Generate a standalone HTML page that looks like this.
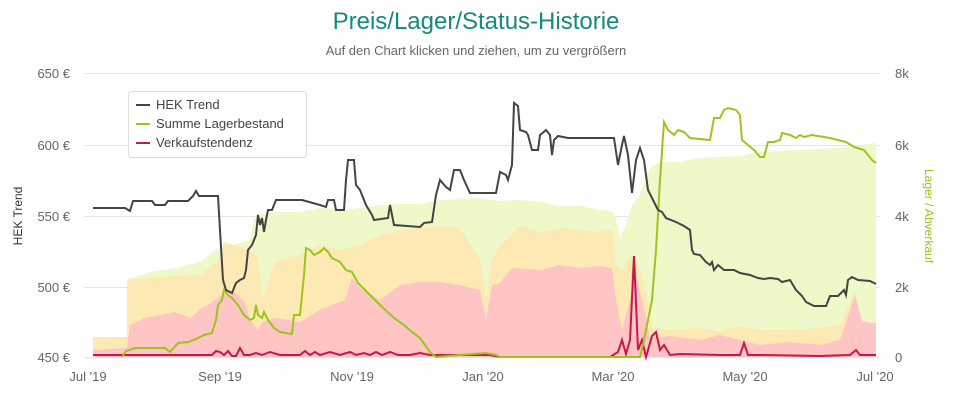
<!DOCTYPE html>
<html><head><meta charset="utf-8"><style>
body{margin:0;background:#fff;width:953px;height:401px;overflow:hidden;font-family:"Liberation Sans",sans-serif}
svg text{font-family:"Liberation Sans",sans-serif}
</style></head><body>
<svg width="953" height="401" viewBox="0 0 953 401" xmlns="http://www.w3.org/2000/svg">
<text x="476" y="29" text-anchor="middle" font-size="24" fill="#15897a">Preis/Lager/Status-Historie</text>
<text x="476" y="55" text-anchor="middle" font-size="13" fill="#666">Auf den Chart klicken und ziehen, um zu vergrößern</text>
<g stroke="#e6e6e6" stroke-width="1">
<line x1="84" x2="880" y1="73.5" y2="73.5"/><line x1="84" x2="880" y1="145.5" y2="145.5"/>
<line x1="84" x2="880" y1="216.5" y2="216.5"/><line x1="84" x2="880" y1="287.5" y2="287.5"/>
<line x1="84" x2="880" y1="357.5" y2="357.5"/>
</g>
<!-- areas -->
<polygon fill="#eef8c8" points="93,357 93,337 127,337 127,280 150,272 175,268 200,262 215,250 230,246 250,240 255,215 275,212 300,212 320,208 345,210 360,208 380,205 400,204 420,204 440,200 460,199 480,198 500,201 520,200 540,202 560,206 580,206 600,210 614,212 620,238 626,225 632,205 640,195 650,168 660,162 680,162 700,158 740,156 760,152 800,150 840,148 876,143 876,357"/>
<polygon fill="#fde9b4" points="93,357 93,337 127,337 127,280 150,278 175,276 200,275 218,262 224,242 250,250 258,258 262,300 275,262 300,255 320,245 340,250 360,245 380,235 400,230 420,228 440,226 460,228 480,260 486,300 492,260 500,245 520,225 540,232 560,228 580,230 600,232 612,230 616,265 622,270 632,255 640,270 648,300 652,328 670,330 700,328 720,332 740,326 760,330 790,330 820,328 840,325 855,292 862,320 876,325 876,357"/>
<polygon fill="#ffc4c4" points="93,357 93,350 127,348 130,325 145,318 160,315 175,312 190,318 200,310 215,300 220,296 235,292 245,302 250,320 258,330 262,322 275,318 290,320 300,322 320,310 345,300 352,278 360,288 380,300 400,285 420,282 440,282 460,285 480,290 486,320 492,285 500,283 512,268 540,270 560,265 580,268 600,266 612,268 616,300 622,330 630,300 636,275 642,300 650,338 670,336 700,340 720,335 740,340 760,345 790,342 820,345 840,340 855,295 862,322 876,323 876,357"/>
<!-- red -->
<polyline fill="none" stroke="#c8174a" stroke-width="2" points="93,355 180,355 212,355 216,351 220,352 224,355 228,351 232,356 236,356 240,348 244,355 250,355 256,353 262,355 270,352 280,355 300,355 305,351 310,355 315,352 320,355 330,352 340,355 350,352 356,355 364,353 370,355 376,352 382,355 390,352 398,355 410,355 420,353 430,355 470,355 490,355 500,357 610,357 618,352 622,340 626,354 630,340 634,256 638,350 642,340 646,357 652,336 656,332 660,350 664,345 670,355 680,354 720,355 740,355 744,343 748,355 760,355 820,356 850,355 856,350 860,355 876,355"/>
<!-- green -->
<polyline fill="none" stroke="#9dc41d" stroke-width="2" points="122,357 126,351 135,348 165,348 170,352 178,343 188,342 196,339 204,335 212,333 216,320 218,305 222,300 224,290 228,295 232,298 238,305 244,315 250,320 254,318 256,305 258,315 262,318 264,312 268,320 274,328 280,332 292,334 294,315 300,315 304,275 306,248 310,250 314,255 320,252 324,248 328,252 332,258 340,262 346,270 352,272 358,283 370,295 380,305 394,318 404,325 412,332 420,338 430,352 436,357 460,355 486,353 496,355 500,357 640,357 644,340 648,320 652,300 656,250 660,180 664,122 668,130 674,135 678,130 684,132 690,138 710,140 714,118 720,118 724,110 728,108 736,110 740,115 742,140 748,145 754,150 760,157 764,157 768,142 774,142 780,140 782,133 790,135 796,138 800,135 804,137 812,135 830,138 846,142 854,147 864,150 872,160 876,163"/>
<!-- black -->
<polyline fill="none" stroke="#444" stroke-width="2" points="93,208 125,208 130,211 133,201 152,201 155,205 165,205 168,201 188,201 193,196 196,191 199,196 218,196 220,230 223,280 226,290 232,293 236,283 240,280 244,278 246,270 248,250 252,245 254,240 256,235 258,215 260,225 262,218 264,232 266,220 268,210 272,210 276,200 302,200 320,205 326,207 328,200 334,200 336,210 344,210 346,180 348,160 354,160 356,185 360,190 366,205 372,215 374,220 388,218 390,205 392,215 394,225 420,227 424,223 432,222 436,195 440,180 446,187 450,190 454,170 460,170 464,180 470,193 496,193 500,172 506,175 508,180 512,165 514,103 518,106 520,130 526,132 528,135 532,150 538,150 540,135 546,130 550,135 552,155 554,140 558,136 568,138 614,138 618,165 622,145 624,136 628,155 632,193 636,160 640,148 644,160 648,190 652,198 658,210 662,212 666,218 676,222 684,226 690,230 692,250 694,254 700,255 706,262 710,265 712,262 714,270 718,265 724,270 734,270 740,273 750,275 758,278 764,279 770,278 778,279 782,282 790,280 796,290 802,296 806,302 814,306 826,306 830,296 838,296 844,290 846,295 848,280 852,277 858,280 870,281 876,284"/>
<!-- axes labels -->
<g font-size="13" fill="#666" text-anchor="end">
<text x="70" y="78">650 €</text><text x="70" y="150">600 €</text><text x="70" y="221">550 €</text>
<text x="70" y="292">500 €</text><text x="70" y="362">450 €</text>
</g>
<g font-size="13" fill="#666" text-anchor="start">
<text x="895" y="78">8k</text><text x="895" y="150">6k</text><text x="895" y="221">4k</text>
<text x="895" y="292">2k</text><text x="895" y="362">0</text>
</g>
<g font-size="13" fill="#666" text-anchor="middle">
<text x="88" y="381">Jul '19</text><text x="220" y="381">Sep '19</text><text x="352" y="381">Nov '19</text>
<text x="483" y="381">Jan '20</text><text x="613" y="381">Mar '20</text><text x="745" y="381">May '20</text><text x="875" y="381">Jul '20</text>
</g>
<text transform="translate(22,216) rotate(-90)" text-anchor="middle" font-size="12" fill="#333">HEK Trend</text>
<text transform="translate(925,216) rotate(90)" text-anchor="middle" font-size="12" fill="#9dc41d">Lager / Abverkauf</text>
<!-- legend -->
<rect x="128.5" y="91.5" width="178" height="66" rx="3" fill="#fff" fill-opacity="0.9" stroke="#ddd"/>
<g font-size="13" fill="#444">
<line x1="136" x2="150" y1="105" y2="105" stroke="#444" stroke-width="2"/><text x="156" y="109">HEK Trend</text>
<line x1="136" x2="150" y1="124" y2="124" stroke="#9dc41d" stroke-width="2"/><text x="156" y="128">Summe Lagerbestand</text>
<line x1="136" x2="150" y1="143" y2="143" stroke="#c8174a" stroke-width="2"/><text x="156" y="147">Verkaufstendenz</text>
</g>
</svg>
</body></html>
